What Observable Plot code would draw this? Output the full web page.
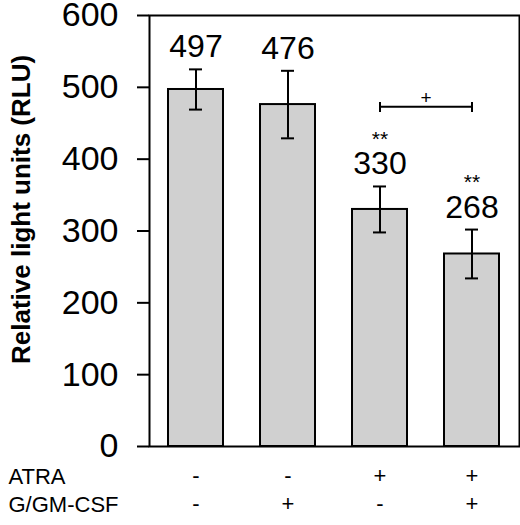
<!DOCTYPE html>
<html>
<head>
<meta charset="utf-8">
<script src="https://cdn.jsdelivr.net/npm/d3@7"></script>
<script src="https://cdn.jsdelivr.net/npm/@observablehq/plot@0.6"></script>
<style>
  body { margin: 0; background: #fff; }
  #chart svg { display: block; }
</style>
</head>
<body>
<div id="chart"></div>
<script>
const groups = ["control", "G/GM-CSF", "ATRA", "ATRA + G/GM-CSF"];
const atra = ["-", "-", "+", "+"];
const gmcsf = ["-", "+", "-", "+"];
const values = [497, 476, 330, 268];
const errors = [28, 47, 32, 34];
const stars = ["", "", "**", "**"];
const yTicks = [0, 100, 200, 300, 400, 500, 600];
const rowNames = ["ATRA", "G/GM-CSF"];
const yLabel = "Relative light units (RLU)";
const bracketPair = ["ATRA", "ATRA + G/GM-CSF"];
const bracketValue = 473;
const bracketSymbol = "+";

const data = groups.map((g, i) => ({
  group: g, value: values[i], err: errors[i], atra: atra[i], gm: gmcsf[i], star: stars[i]
}));

const font = "'Liberation Sans', Arial, Helvetica, sans-serif";

const chart = Plot.plot({
  width: 520,
  height: 525,
  marginLeft: 149,
  marginRight: 1,
  marginTop: 15,
  marginBottom: 79,
  style: { fontFamily: font, color: "#000", background: "#fff", overflow: "visible" },
  x: { domain: groups, paddingInner: 0.4, paddingOuter: 0.2, axis: null },
  y: { domain: [0, 600], axis: null },
  marks: [
    Plot.barY(data, { x: "group", y: "value", fill: "#d0d0d0", stroke: "#000", strokeWidth: 2 }),
    Plot.frame({ stroke: "#000", strokeWidth: 2 }),
    Plot.axisY(yTicks, { tickSize: 12, tickPadding: 19, fontSize: 34, strokeWidth: 2, label: null }),
    // error bars
    Plot.ruleX(data, { x: "group", y1: d => d.value - d.err, y2: d => d.value + d.err, stroke: "#000", strokeWidth: 2 }),
    Plot.tickY(data, { x: "group", y: d => d.value + d.err, inset: 21, stroke: "#000", strokeWidth: 2 }),
    Plot.tickY(data, { x: "group", y: d => d.value - d.err, inset: 21, stroke: "#000", strokeWidth: 2 }),
    // value labels
    Plot.text(data, { x: "group", y: d => d.value + d.err, text: d => String(d.value), lineAnchor: "bottom", dy: -12, fontSize: 32, fill: "#000" }),
    // significance stars
    Plot.text(data, { x: "group", y: d => d.value + d.err, text: "star", dy: -47, fontSize: 21, fill: "#000" }),
    // bracket
    Plot.link([bracketPair], { x1: d => d[0], x2: d => d[1], y1: () => bracketValue, y2: () => bracketValue, stroke: "#000", strokeWidth: 2 }),
    Plot.ruleX(bracketPair, { x: d => d, y1: bracketValue - 8, y2: bracketValue + 6, stroke: "#000", strokeWidth: 2 }),
    Plot.text([bracketPair], { x: d => d[0], y: () => bracketValue, text: () => bracketSymbol, dx: 46, dy: -9, fontSize: 19, fill: "#000" }),
    // treatment rows
    Plot.text(data, { x: "group", text: "atra", frameAnchor: "bottom", dy: 36, fontSize: 22, fill: "#000" }),
    Plot.text(data, { x: "group", text: "gm", frameAnchor: "bottom", dy: 64, fontSize: 22, fill: "#000" }),
    Plot.text([rowNames[0]], { text: d => d, frameAnchor: "bottom-left", textAnchor: "start", dx: -141, dy: 37, fontSize: 22, fill: "#000" }),
    Plot.text([rowNames[1]], { text: d => d, frameAnchor: "bottom-left", textAnchor: "start", dx: -141, dy: 65, fontSize: 22, fill: "#000" }),
    // y label
    Plot.text([yLabel], { text: d => d, y: () => 330, frameAnchor: "left", textAnchor: "middle", rotate: -90, dx: -128, fontSize: 26, fontWeight: "bold", fill: "#000" })
  ]
});

document.getElementById("chart").appendChild(chart);
</script>
</body>
</html>
